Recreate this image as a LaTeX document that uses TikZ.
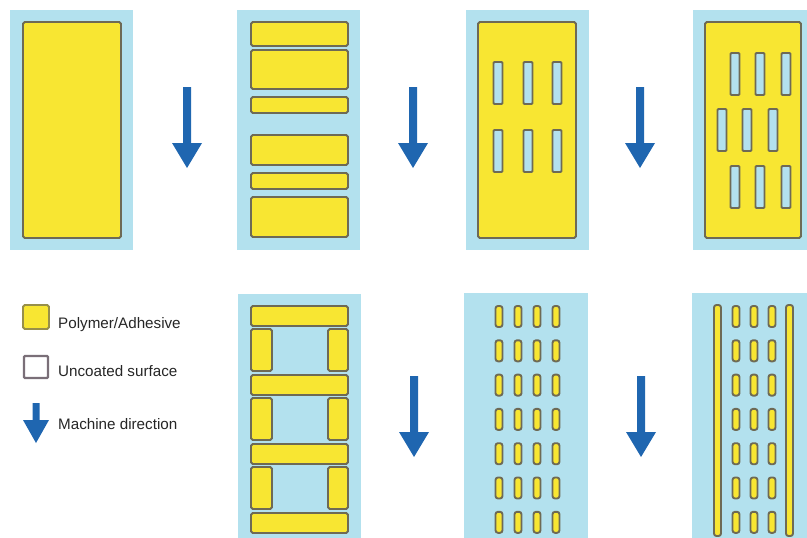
\documentclass[tikz,border=0pt]{standalone}
\usepackage{fontspec}
\setmainfont{Liberation Sans}
\definecolor{webcolor}{HTML}{B3E1EE}
\definecolor{coatcolor}{HTML}{F8E632}
\definecolor{edgecolor}{HTML}{6E6A55}
\definecolor{mdcolor}{HTML}{1F66B0}
\definecolor{barecolor}{HTML}{7A6F78}
\def\H{42}
\def\P{34.3}
\tikzset{
    web/.style={fill=webcolor},
    coat/.style={fill=coatcolor,draw=edgecolor,line width=1.9pt,rounded corners=1.8pt},
    gap/.style={fill=webcolor,draw=edgecolor,line width=1.9pt,rounded corners=1pt},
    legendtext/.style={anchor=base west,inner sep=0pt,font=\fontsize{15.2}{18}\selectfont,text=black!85}
}
% #1 x, #2 top, #3 tip, #4 head length, #5 head half width, #6 shaft half width
\newcommand\mdarrow[6]{%
    \fill[mdcolor] (#1-#6,#2) -- (#1+#6,#2) -- (#1+#6,#3-#4) -- (#1+#5,#3-#4)
        -- (#1,#3) -- (#1-#5,#3-#4) -- (#1-#6,#3-#4) -- cycle;}

\begin{document}
\begin{tikzpicture}[x=1pt,y=-1pt]
\useasboundingbox (0,0) rectangle (807,538);
% full coat
\fill[web] (10,10) rectangle (133,250);
\draw[coat] (23,22) rectangle (121,238);
\mdarrow{187}{87}{168}{25}{15}{4}
% cross stripes
\fill[web] (237,10) rectangle (360,250);
\foreach \a/\b in {22/46,50/89,97/113,135/165,173/189,197/237}
    \draw[coat] (251,\a) rectangle (348,\b);
\mdarrow{413}{87}{168}{25}{15}{4}
% window slots
\fill[web] (466,10) rectangle (589,250);
\draw[coat] (478,22) rectangle (576,238);
\foreach \x in {498,528,557}{
    \foreach \y in {62,130}{
        \draw[gap] (\x-4.5,\y) rectangle (\x+4.5,\y+\H);
}}
\mdarrow{640}{87}{168}{25}{15}{4}
% staggered slots
\fill[web] (693,10) rectangle (807,250);
\draw[coat] (705,22) rectangle (801,238);
\foreach \x in {735,760,786}{
    \foreach \y in {53,166}{
        \draw[gap] (\x-4.5,\y) rectangle (\x+4.5,\y+\H);
}}
\foreach \x in {722,747,773}
    \draw[gap] (\x-4.5,109) rectangle (\x+4.5,109+\H);
% legend
\draw[coat,draw=edgecolor!70!coatcolor] (23,305) rectangle (49,329);
\node[legendtext] (polymer) at (58,328) {Polymer/Adhesive};
\draw[line width=2.2pt,draw=barecolor,fill=white,rounded corners=1pt] (24,356) rectangle (48,378);
\node[legendtext] (uncoated) at (58,376) {Uncoated surface};
\mdarrow{36}{403}{443}{23}{13}{3.5}
\node[legendtext] (machine) at (58,429) {Machine direction};
% frames
\fill[web] (238,294) rectangle (361,538);
\foreach \y in {306,375,444,513}
    \draw[coat] (251,\y) rectangle (348,\y+20);
\foreach \y in {329,398,467}{
    \draw[coat] (251,\y) rectangle (272,\y+\H);
    \draw[coat] (328,\y) rectangle (348,\y+\H);
}
\mdarrow{414}{376}{457}{25}{15}{4}
% dots
\fill[web] (464,293) rectangle (588,538);
\foreach \x in {499,518,537,556}{
    \foreach \i in {0,...,6}{
        \draw[coat,rounded corners=2.5pt] (\x-3.5,306+\P*\i) rectangle (\x+3.5,327+\P*\i);
}}
\mdarrow{641}{376}{457}{25}{15}{4}
% dots with edge lanes
\fill[web] (692,293) rectangle (807,538);
\draw[coat,rounded corners=2.5pt] (714,305) rectangle (721,536);
\draw[coat,rounded corners=2.5pt] (786,305) rectangle (793,536);
\foreach \x in {736,754,772}{
    \foreach \i in {0,...,6}{
        \draw[coat,rounded corners=2.5pt] (\x-3.5,306+\P*\i) rectangle (\x+3.5,327+\P*\i);
}}
\end{tikzpicture}
\end{document}
